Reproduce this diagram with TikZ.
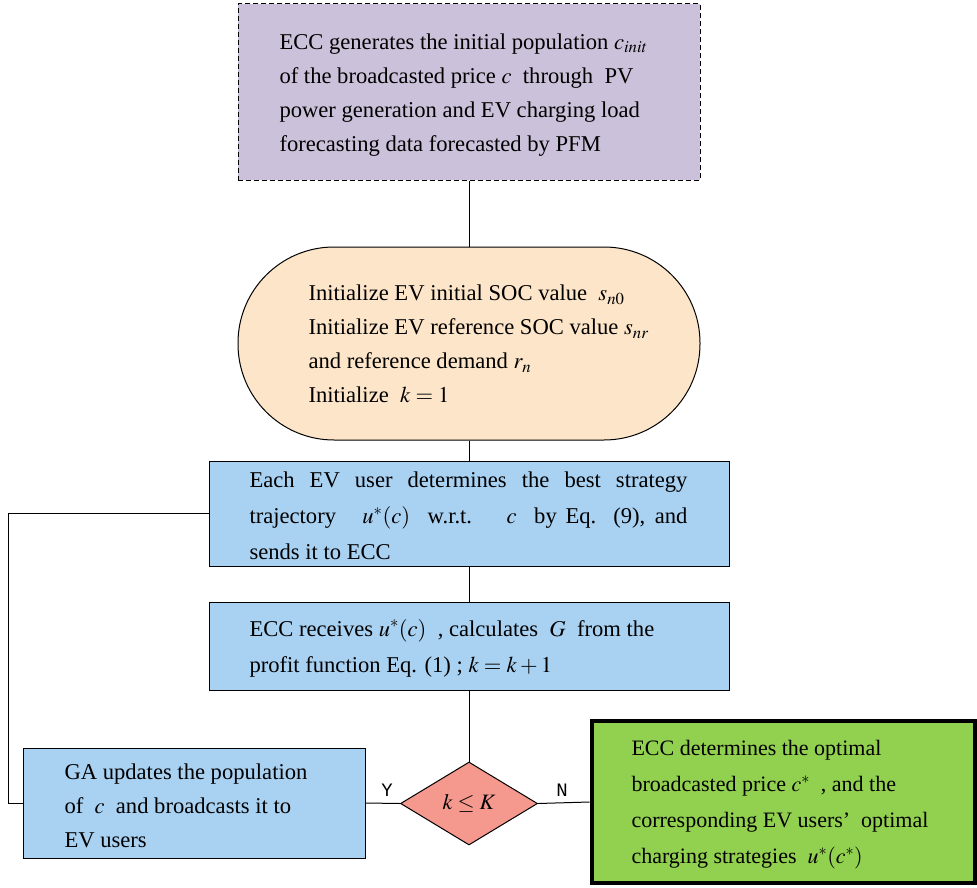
\documentclass[tikz,border=0pt]{standalone}
\usepackage{mathptmx}
\usepackage{fontspec}
\setmainfont{Liberation Serif}
\newfontfamily\ynfont{Liberation Mono}
\usetikzlibrary{shapes.geometric}
\definecolor{purpfill}{RGB}{204,193,218}
\definecolor{peachfill}{RGB}{252,229,200}
\definecolor{bluefill}{RGB}{169,209,242}
\definecolor{redfill}{RGB}{245,152,142}
\definecolor{greenfill}{RGB}{146,208,80}
\begin{document}
\begin{tikzpicture}[x=1pt,y=-1pt,line width=1pt,
  boxshape/.style={draw, rectangle, inner sep=0pt},
  txt/.style={anchor=west, align=left, inner sep=0pt, font=\fontsize{22.6}{34}\selectfont},
  txtb/.style={anchor=west, align=left, inner sep=0pt, font=\fontsize{22.6}{36}\selectfont},
  txtg/.style={anchor=west, align=left, inner sep=0pt, font=\fontsize{22}{36}\selectfont},
  lbl/.style={inner sep=0pt, font=\ynfont\fontsize{19}{19}\selectfont}]
\useasboundingbox (0,0) rectangle (977,888);
% shapes
\node[boxshape, dash pattern=on 5pt off 3pt, fill=purpfill, minimum width=462pt, minimum height=176pt] (gen) at (469,92) {};
\node[draw, rectangle, rounded corners=96pt, fill=peachfill, inner sep=0pt, minimum width=462pt, minimum height=193pt] (init) at (469,343.5) {};
\node[boxshape, fill=bluefill, minimum width=520pt, minimum height=105pt] (best) at (469,513.5) {};
\node[boxshape, fill=bluefill, minimum width=520pt, minimum height=88pt] (recv) at (469,646) {};
\node[boxshape, fill=bluefill, minimum width=342pt, minimum height=110pt] (ga) at (194,803) {};
\node[draw, diamond, fill=redfill, inner sep=0pt, minimum width=137pt, minimum height=83pt] (dia) at (469,803.5) {};
\node[boxshape, fill=greenfill, line width=4pt, minimum width=383pt, minimum height=162pt] (opt) at (783,802) {};
% texts
\node[txt] (genT) at (279,95) {ECC generates the initial population $c_{init}$\\
of the broadcasted price $c$ \ through \ PV\\
power generation and EV charging load\\
forecasting data forecasted by PFM};
\node[txt] (initT) at (308,344) {Initialize EV initial SOC value \ $s_{n0}$\\
Initialize EV reference SOC value $s_{nr}$\\
and reference demand $r_n$\\
Initialize \ $k=1$};
\node[txtb] (bestT) at (249,516) {\makebox[438pt][s]{Each EV user determines the best strategy}\\
\makebox[438pt][s]{trajectory \ \ $u^{*}(c)$ \ w.r.t. \ \ $c$ \ by Eq. (9), and}\\
sends it to ECC};
\node[txtb] (recvT) at (249,648) {ECC receives $u^{*}(c)$ \ , calculates \ $G$ \ from the\\
profit function Eq. (1) ; $k=k+1$};
\node[txt] (gaT) at (64,806) {GA updates the population\\
of \ $c$ \ and broadcasts it to\\
EV users};
\node[inner sep=0pt, font=\fontsize{22}{22}\selectfont] (diaT) at (dia.center) {$k\le K$};
\node[txtg] (optT) at (631,805) {ECC determines the optimal\\
broadcasted price $c^{*}$ \ , and the\\
corresponding EV users’\ \ optimal\\
charging strategies \ $u^{*}(c^{*})$};
\node[lbl] (ylab) at (387,790) {Y};
\node[lbl] (nlab) at (562,790) {N};
% connectors
\draw (gen.south) -- (init.north);
\draw (init.south) -- (best.north);
\draw (best.south) -- (recv.north);
\draw (recv.south) -- (dia.north);
\draw (dia.west) -- (ga.east);
\draw (dia.east) -- (opt.west);
\draw (ga.west) -- ++(-14,0) |- (best.west);
\end{tikzpicture}
\end{document}
